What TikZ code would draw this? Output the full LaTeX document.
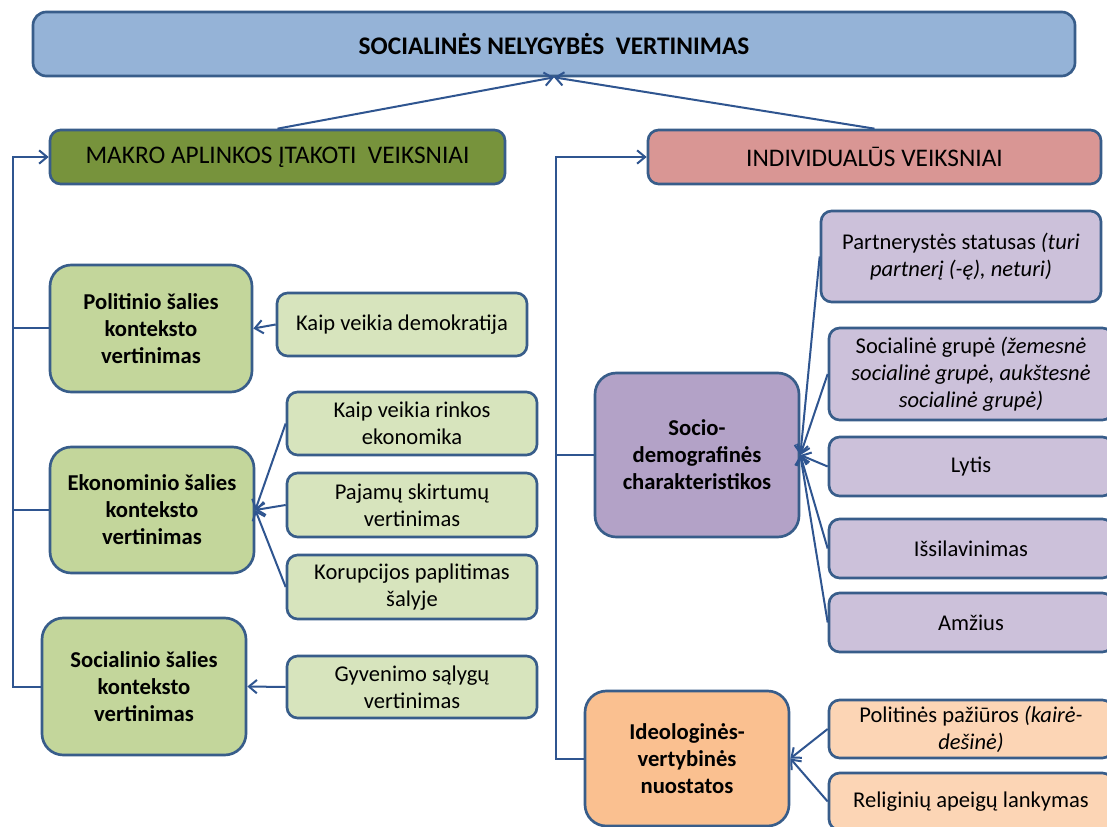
\documentclass[tikz,border=0pt]{standalone}
\usepackage{fontspec}
\setmainfont{Carlito}
\usetikzlibrary{arrows.meta}
\definecolor{bordc}{HTML}{385D8A}
\definecolor{linec}{HTML}{2F5590}
\definecolor{cTop}{HTML}{95B3D7}
\definecolor{cMakro}{HTML}{77933C}
\definecolor{cIndiv}{HTML}{D99694}
\definecolor{cGreenA}{HTML}{C3D69B}
\definecolor{cGreenB}{HTML}{D7E4BD}
\definecolor{cPurpA}{HTML}{B3A2C7}
\definecolor{cPurpB}{HTML}{CCC1DA}
\definecolor{cOrA}{HTML}{FAC090}
\definecolor{cOrB}{HTML}{FCD5B5}
\tikzset{
  boxbase/.style={draw=bordc, line width=2pt, rectangle, inner sep=0pt, align=center,
    font=\fontsize{16.9}{20.3}\selectfont},
  smallbox/.style={boxbase, rounded corners=8pt},
  bigbox/.style={boxbase, rounded corners=16pt, font=\fontsize{17}{20.3}\selectfont\bfseries},
  headbox/.style={boxbase, rounded corners=8pt, font=\fontsize{19}{22}\selectfont},
  conn/.style={draw=linec, line width=1.5pt},
  arr/.style={conn, -{Straight Barb[length=6pt,width=10pt,line width=1.5pt]}},
  sz/.style 2 args={minimum width=#1*0.75pt, minimum height=#2*0.75pt}
}
\begin{document}
\begin{tikzpicture}[x=0.75pt,y=-0.75pt]
\useasboundingbox (0,0) rectangle (1107,827);
\clip (0,0) rectangle (1107,827);
\fill[white] (0,0) rectangle (1107,827);

% top
\node[boxbase, rounded corners=10pt, fill=cTop, sz={1042}{64}, font=\fontsize{19}{22}\selectfont\bfseries] (top) at (554,44) {SOCIALINĖS NELYGYBĖS\ \ VERTINIMAS};
\node[headbox, fill=cMakro, sz={455}{54}] (makro) at (277.5,157) {MAKRO APLINKOS ĮTAKOTI\ \ VEIKSNIAI};
\node[headbox, fill=cIndiv, sz={453}{54}] (indiv) at (874.5,157) {INDIVIDUALŪS VEIKSNIAI};

% left side
\node[bigbox, fill=cGreenA, sz={202}{127}] (polit) at (151,328.5) {Politinio šalies\\konteksto\\vertinimas};
\node[smallbox, fill=cGreenB, sz={250}{63}] (demok) at (402,324.5) {Kaip veikia demokratija};
\node[bigbox, fill=cGreenA, sz={204}{126}] (ekon) at (152,510) {Ekonominio šalies\\konteksto\\vertinimas};
\node[smallbox, fill=cGreenB, sz={250}{63}] (rinkos) at (412,423.5) {Kaip veikia rinkos\\ekonomika};
\node[smallbox, fill=cGreenB, sz={250}{64}] (pajamu) at (412,505) {Pajamų skirtumų\\vertinimas};
\node[smallbox, fill=cGreenB, sz={250}{64}] (korup) at (412,587) {Korupcijos paplitimas\\šalyje};
\node[bigbox, fill=cGreenA, sz={204}{137}] (soc) at (144,686.5) {Socialinio šalies\\konteksto\\vertinimas};
\node[smallbox, fill=cGreenB, sz={250}{62}] (gyven) at (412,687) {Gyvenimo sąlygų\\vertinimas};

% right side
\node[bigbox, fill=cPurpA, sz={204}{164}] (socio) at (697,455) {Socio-\\demografinės\\charakteristikos};
\node[smallbox, fill=cPurpB, sz={280}{91}] (partn) at (961,256.5) {Partnerystės statusas \textit{(turi}\\\textit{partnerį (-ę), neturi)}};
\node[smallbox, fill=cPurpB, sz={284}{92}] (sgrupe) at (971,374) {Socialinė grupė \textit{(žemesnė}\\\textit{socialinė grupė, aukštesnė}\\\textit{socialinė grupė)}};
\node[smallbox, fill=cPurpB, sz={284}{59}] (lytis) at (971,466.5) {Lytis};
\node[smallbox, fill=cPurpB, sz={284}{59}] (issil) at (971,548.5) {Išsilavinimas};
\node[smallbox, fill=cPurpB, sz={284}{59}] (amz) at (971,622.5) {Amžius};
\node[bigbox, fill=cOrA, sz={204}{135}] (ideol) at (687,758.5) {Ideologinės-\\vertybinės\\nuostatos};
\node[smallbox, fill=cOrB, sz={284}{58}] (polpaz) at (971,729) {Politinės pažiūros \textit{(kairė-}\\\textit{dešinė)}};
\node[smallbox, fill=cOrB, sz={284}{57}] (relig) at (971,801.5) {Religinių apeigų lankymas};

% top arrows
\draw[arr] (makro.north) -- (top.south);
\draw[arr] (indiv.north) -- (top.south);

% left bracket
\coordinate (lb) at (13,157);
\draw[arr] (soc.west) -| (lb) -- (makro.west);
\draw[conn] (polit.west) -- (polit.west -| lb);
\draw[conn] (ekon.west) -- (ekon.west -| lb);

% right bracket
\coordinate (rb) at (556,157);
\draw[arr] (ideol.west) -| (rb) -- (indiv.west);
\draw[conn] (socio.west) -- (socio.west -| rb);

% children arrows
\draw[arr] (demok.west) -- (polit.east);
\draw[arr] (rinkos.west) -- (ekon.east);
\draw[arr] (pajamu.west) -- (ekon.east);
\draw[arr] (korup.west) -- (ekon.east);
\draw[arr] (gyven.west) -- (soc.east);
\draw[arr] (partn.west) -- (socio.east);
\draw[arr] (sgrupe.west) -- (socio.east);
\draw[arr] (lytis.west) -- (socio.east);
\draw[arr] (issil.west) -- (socio.east);
\draw[arr] (amz.west) -- (socio.east);
\draw[arr] (polpaz.west) -- (ideol.east);
\draw[arr] (relig.west) -- (ideol.east);
\end{tikzpicture}
\end{document}
